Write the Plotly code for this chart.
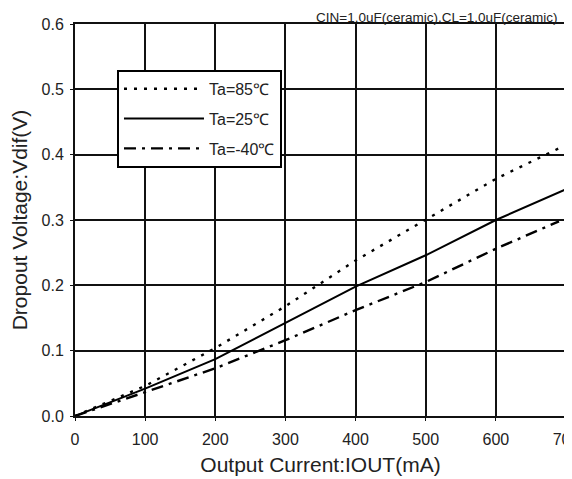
import plotly.graph_objects as go

current_ma = [0, 100, 200, 300, 400, 500, 600, 700]
current_m40 = [0, 100, 200, 300, 400, 500, 600, 690]
vdif_85 = [0, 0.046, 0.104, 0.168, 0.238, 0.300, 0.363, 0.415]
vdif_25 = [0, 0.042, 0.087, 0.143, 0.198, 0.246, 0.300, 0.347]
vdif_m40 = [0, 0.037, 0.073, 0.116, 0.162, 0.205, 0.256, 0.298]

x_ticks = [0, 100, 200, 300, 400, 500, 600, 700]
y_ticks = [0.0, 0.1, 0.2, 0.3, 0.4, 0.5, 0.6]

FONT = "Liberation Sans, Arial, sans-serif"
TXT = "#222222"

fig = go.Figure()
fig.add_trace(go.Scatter(x=current_ma, y=vdif_85, mode="lines", name="Ta=85\u2103",
                         line=dict(color="black", width=2.4, dash="3px,7px"), legendgroup="a"))
fig.add_trace(go.Scatter(x=current_ma, y=vdif_25, mode="lines", name="Ta=25\u2103",
                         line=dict(color="black", width=2), legendgroup="b"))
fig.add_trace(go.Scatter(x=current_m40, y=vdif_m40, mode="lines", name="Ta=-40\u2103",
                         line=dict(color="black", width=2.4, dash="12px,6px,3px,6px"), legendgroup="c"))

fig.update_layout(
    width=572, height=479,
    margin=dict(l=67, r=14, t=16, b=71, autoexpand=False),
    paper_bgcolor="white", plot_bgcolor="white",
    font=dict(family=FONT, size=16, color=TXT),
    showlegend=True,
    legend=dict(x=0.0855, y=0.883, xanchor="left", yanchor="top",
                bgcolor="white", bordercolor="black", borderwidth=2,
                font=dict(size=16, color=TXT), tracegroupgap=6,
                itemwidth=80),
    annotations=[dict(text="CIN=1.0uF(ceramic),CL=1.0uF(ceramic)", xref="paper", yref="paper",
                      x=0.988, y=1 + 16 / 392, xanchor="right", yanchor="top",
                      showarrow=False, font=dict(size=13.5, color=TXT))],
)
fig.update_xaxes(range=[0, 700], tickvals=x_ticks, showgrid=True, gridcolor="#111111", gridwidth=2,
                 showline=True, linecolor="#111111", linewidth=2, mirror=True,
                 ticks="outside", ticklen=3, tickcolor="#111111", zeroline=False, automargin=False,
                 ticklabelstandoff=5,
                 tickfont=dict(size=16), title=dict(text="Output Current:IOUT(mA)", font=dict(size=21), standoff=10))
fig.update_yaxes(range=[0, 0.6], tickvals=y_ticks, tickformat=".1f", showgrid=True, gridcolor="#111111", gridwidth=2,
                 showline=True, linecolor="#111111", linewidth=2, mirror=True,
                 ticks="outside", ticklen=3, tickcolor="#111111", zeroline=False, automargin=False,
                 ticklabelstandoff=3,
                 tickfont=dict(size=16), title=dict(text="Dropout Voltage:Vdif(V)", font=dict(size=21), standoff=13))

fig.write_html("out.html")
